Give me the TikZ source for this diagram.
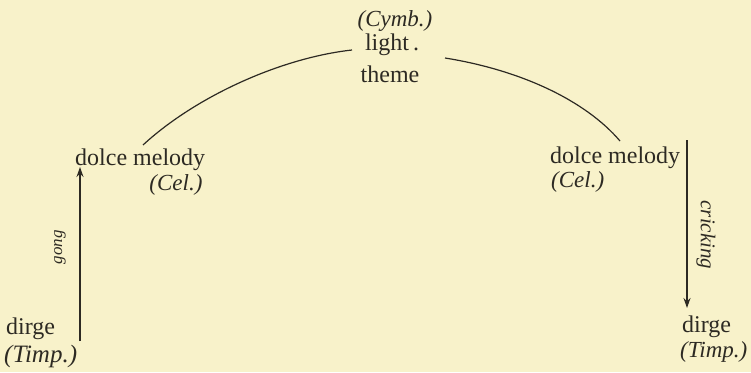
\documentclass[tikz,border=0pt]{standalone}
\usepackage{fontspec}
\setmainfont{Liberation Serif}
\usetikzlibrary{arrows.meta}
\definecolor{paper}{RGB}{248,242,202}
\definecolor{ink}{RGB}{45,42,35}
\begin{document}
\begin{tikzpicture}[x=1pt,y=-1pt,
  lbl/.style={inner sep=0pt,text=ink,font=\fontsize{24}{26}\selectfont},
  ilbl/.style={inner sep=0pt,text=ink,font=\fontsize{23}{25}\selectfont\itshape},
  conn/.style={draw=ink,line width=1.3pt},
  arr/.style={conn,-{Stealth[length=10pt,width=7pt]}}]
\fill[paper] (0,0) rectangle (751,372);
\useasboundingbox (0,0) rectangle (751,372);
% top
\node[ilbl] (cymb) at (395,21) {(Cymb.)};
\node[lbl] (light) at (392,45) {light\,.};
\node[lbl] (theme) at (390,74) {theme};
% left
\node[lbl,anchor=west] (dmL) at (75,160) {dolce melody};
\node[ilbl] (celL) at (176,185) {(Cel.)};
\node[lbl,anchor=west] (dirgeL) at (6,329) {dirge};
\node[ilbl,anchor=west,font=\fontsize{25}{27}\selectfont\itshape] (timpL) at (4,356) {(Timp.)};
% right
\node[lbl,anchor=west] (dmR) at (550,158) {dolce melody};
\node[ilbl,anchor=west] (celR) at (551,182) {(Cel.)};
\node[lbl,anchor=west] (dirgeR) at (682,327) {dirge};
\node[ilbl,anchor=west] (timpR) at (680,352) {(Timp.)};
% arcs
\coordinate (a1) at (143,145);
\coordinate (a2) at (352,50);
\coordinate (b1) at (445,58);
\coordinate (b2) at (620,141);
\draw[conn,line width=1.2pt] (a1) .. controls (195,97) and (280,58) .. (a2);
\draw[conn,line width=1.2pt] (b1) .. controls (520,70) and (585,100) .. (b2);
% arrows
\coordinate (gL1) at (80,341);
\coordinate (gL2) at (80,167);
\draw[arr] (gL1) -- (gL2);
\node[ilbl,rotate=90,font=\fontsize{17}{19}\selectfont\itshape] (gong) at (60,247) {gong};
\coordinate (cR1) at (687,140);
\coordinate (cR2) at (687,308);
\draw[arr] (cR1) -- (cR2);
\node[ilbl,rotate=-90,font=\fontsize{21}{23}\selectfont\itshape] (crick) at (706,235) {cricking};
\end{tikzpicture}
\end{document}
